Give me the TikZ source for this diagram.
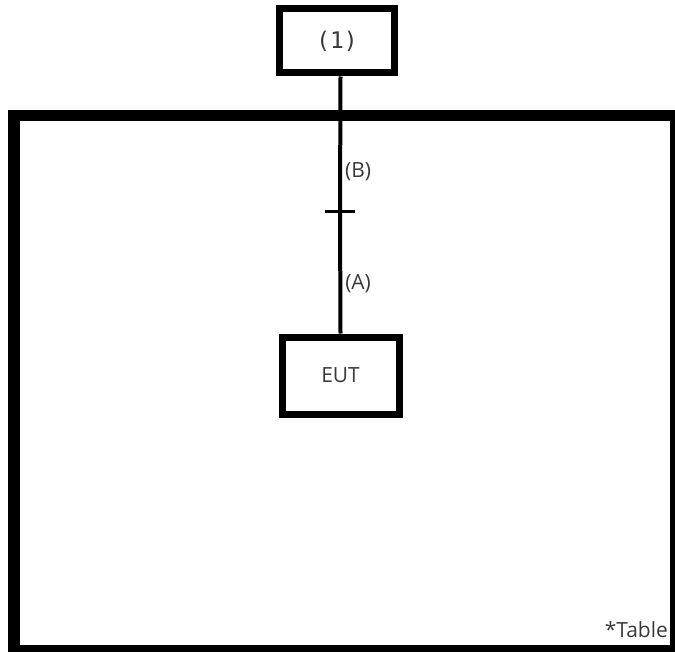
\documentclass[tikz,border=0pt]{standalone}
\usepackage{fontspec}
\setmainfont{Open Sans}
\newfontfamily\monofont{DejaVu Sans Mono}
\definecolor{txtgray}{HTML}{383838}

\begin{document}
\begin{tikzpicture}[
            x = 1bp, y = -1bp, % pixel units, y downwards
            font = \fontsize{21}{24}\selectfont\color{txtgray},
            box/.style = {draw=black, line width=7bp, minimum width=115bp, minimum height=64bp, inner sep=0pt},
            wire/.style = {draw=black, line width=4bp}
        ]
\useasboundingbox (0,0) rectangle (675,652);

\node[draw=black, line width=11.5bp, minimum width=661.5bp, minimum height=535bp] (frame) at (344.75,383) {};
\node[anchor=base east, inner sep=0pt] (table) at (668,637) {*Table};

\node[box, font=\monofont\fontsize{23}{26}\selectfont\color{txtgray}] (one) at (337,41) {(1)};
\node[box, minimum width=117bp, minimum height=77bp] (eut) at (340.5,375.5) {EUT};
\coordinate (cut) at (340,211);

 \path [wire] (eut.north |- one.south) -- (cut) node[pos=0.71, right, inner sep=3bp] (b) {(B)};
 \path [wire] (cut) -- (eut.north) node[pos=0.59, right, inner sep=3bp] (a) {(A)};
 \path [draw=black, line width=3bp] ([xshift=-15bp]cut) -- ([xshift=15bp]cut);

\end{tikzpicture}
\end{document}
